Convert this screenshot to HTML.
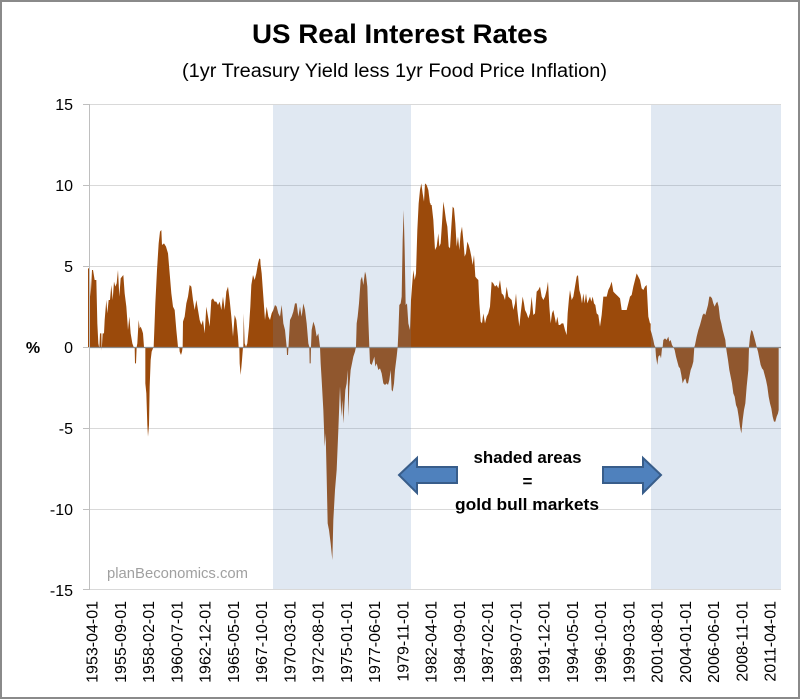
<!DOCTYPE html>
<html>
<head>
<meta charset="utf-8">
<style>
html,body{margin:0;padding:0;background:#fff;}
svg{display:block;}
text{font-family:"Liberation Sans",sans-serif;}
</style>
</head>
<body>
<svg width="800" height="700" viewBox="0 0 800 700" xmlns="http://www.w3.org/2000/svg">
<rect x="0" y="0" width="800" height="700" fill="#fff"/>
<rect x="1" y="1" width="798" height="697" fill="none" stroke="#8a8a8a" stroke-width="2"/>

<!-- titles -->
<text x="400" y="43" text-anchor="middle" font-size="27" font-weight="bold" fill="#000" textLength="296" lengthAdjust="spacingAndGlyphs">US Real Interest Rates</text>
<text x="394.5" y="77" text-anchor="middle" font-size="19" fill="#000" textLength="425" lengthAdjust="spacingAndGlyphs">(1yr Treasury Yield less 1yr Food  Price Inflation)</text>

<!-- gridlines -->
<g stroke="#d9d9d9" stroke-width="1">
<line x1="89" y1="104.5" x2="781" y2="104.5"/>
<line x1="89" y1="185.5" x2="781" y2="185.5"/>
<line x1="89" y1="266.5" x2="781" y2="266.5"/>
<line x1="89" y1="428.5" x2="781" y2="428.5"/>
<line x1="89" y1="509.5" x2="781" y2="509.5"/>
<line x1="89" y1="589.5" x2="781" y2="589.5"/>
</g>

<!-- series -->
<g fill="#9b4a0b">
<g transform="translate(88,220) scale(0.33333)">
<polygon points="0,381 0,145 5,145 8,230 12,150 15,150 20,180 25,180 28,310 31,370 34,385 36,340 40,340 41,392 44,340 48,340 50,300 55,240 58,280 62,240 66,240 70,195 74,240 78,185 82,200 86,190 90,150 94,230 98,175 102,170 106,165 110,220 115,260 120,330 124,290 128,340 133,370 137,381 140,381 141,430 144,430 146,381 148,370 152,300 155,325 158,320 162,330 165,340 168,381 172,381 172,490 175,520 178,615 180,650 183,615 185,500 188,420 191,395 195,385 197,381 198,355 202,250 207,150 212,70 216,35 220,30 222,75 228,70 234,80 240,100 245,160 250,220 255,260 260,270 265,330 270,381 274,381 275,395 279,405 282,395 284,381 285,305 290,290 295,250 300,230 305,195 310,200 315,240 320,270 325,240 330,270 335,300 340,315 345,300 350,340 355,260 360,290 365,320 370,240 375,235 380,245 385,245 390,255 395,245 400,270 405,230 410,270 415,215 420,200 425,240 430,290 435,350 440,285 445,300 450,350 452,381 454,381 455,430 458,465 462,420 465,381 466,381 467,280 470,370 474,381 478,370 483,320 487,260 490,195 495,165 500,180 505,160 510,130 514,115 517,118 518,381"/>
</g>
<g transform="translate(260,170) scale(0.33333)">
<polygon points="0,531 0,270 5,310 10,380 15,450 20,410 25,440 30,450 35,430 40,420 45,405 50,410 55,430 60,440 65,405 70,460 75,480 80,531 81,555 84,555 86,520 90,450 95,440 100,425 105,400 110,400 115,440 120,410 125,440 130,400 135,420 140,460 145,520 148,531 149,580 152,580 153,530 155,480 160,455 165,470 170,500 175,490 180,531 182,580 185,630 190,720 194,830 197,790 200,920 203,1060 207,1080 212,1120 217,1170 220,1050 225,960 230,900 235,780 238,700 240,650 244,740 247,690 250,760 253,710 256,660 260,640 263,600 265,740 268,650 272,600 276,580 280,560 285,545 288,531 290,460 293,440 297,400 302,330 306,320 310,345 315,305 318,315 322,350 325,450 328,531 330,580 335,585 340,570 343,560 346,590 350,580 355,600 360,595 365,610 370,640 375,645 380,640 384,645 388,630 392,600 395,660 398,665 402,640 405,600 410,560 413,531 415,490 418,405 422,400 425,380 428,210 431,120 434,240 437,405 441,400 445,460 450,480 453,390 456,350 460,300 464,330 468,310 472,180 476,100 480,60 484,40 488,70 492,95 495,40 500,45 505,60 510,100 512,100 512,531"/>
</g>
<g transform="translate(430,170) scale(0.33333)">
<polygon points="0,531 0,105 5,105 10,150 15,240 20,230 25,190 28,230 32,220 36,160 40,95 44,120 48,150 52,170 56,230 60,235 64,170 68,110 72,115 76,160 80,230 84,200 88,240 92,190 96,170 100,210 104,260 108,250 112,215 116,225 120,240 124,260 128,285 132,255 136,320 140,325 145,330 148,400 152,455 156,460 160,430 165,460 170,440 175,430 180,410 185,335 190,340 195,350 200,345 205,355 210,330 215,370 220,375 225,390 230,350 235,380 240,385 245,390 250,420 255,400 258,370 262,420 268,470 272,430 278,380 282,400 285,420 290,430 295,445 300,430 305,380 310,435 315,430 320,365 325,360 330,350 335,380 340,390 345,380 350,360 354,335 358,410 362,460 366,430 370,420 374,440 378,460 382,440 386,465 390,465 395,460 400,460 405,480 410,495 413,430 417,385 420,360 425,390 430,380 435,350 440,320 444,315 448,360 452,375 456,400 460,370 464,400 468,370 472,400 476,390 480,380 484,395 488,380 492,400 496,405 500,430 505,435 510,470 515,435 520,380 525,380 530,380 535,360 540,350 545,335 550,365 555,370 560,375 565,380 570,385 575,420 580,420 585,420 590,420 595,400 600,380 605,375 610,350 615,330 620,310 625,320 630,330 635,355 640,360 645,350 650,345 655,440 660,460 662,460 662,531"/>
</g>
<g transform="translate(640,280) scale(0.33333)">
<polygon points="30,201 30,145 35,160 40,180 43,195 46,201 48,230 52,255 55,230 60,225 63,235 66,205 68,201 70,180 75,175 80,180 85,170 88,185 92,180 96,195 100,201 104,210 108,230 112,245 116,260 120,265 124,285 128,310 132,300 136,295 140,310 144,310 148,290 152,270 156,260 160,245 163,201 165,195 170,170 175,150 180,135 184,120 188,105 192,100 196,105 200,90 204,75 208,50 212,50 216,55 220,70 224,80 228,70 232,65 236,80 240,115 244,130 248,150 252,165 256,180 258,201 260,215 264,240 268,270 272,290 276,310 280,340 284,350 288,375 292,385 296,410 300,440 304,460 308,420 312,390 316,370 320,320 325,270 327,201 330,170 334,150 338,155 342,170 346,185 350,201 354,215 358,235 362,255 366,265 370,270 374,285 378,300 382,320 386,350 390,370 394,385 398,410 402,425 406,425 410,410 414,400 416,390 416,201"/>
</g>
</g>

<!-- shaded overlays -->
<rect x="273" y="105" width="138" height="484" fill="rgb(100,140,190)" fill-opacity="0.2"/>
<rect x="651" y="105" width="130" height="484" fill="rgb(100,140,190)" fill-opacity="0.2"/>

<!-- axes -->
<line x1="89" y1="347.5" x2="781" y2="347.5" stroke="#8a8a8a" stroke-width="1.2"/>
<line x1="89.5" y1="104" x2="89.5" y2="590" stroke="#bfbfbf" stroke-width="1"/>
<g stroke="#bfbfbf" stroke-width="1">
<line x1="83" y1="104.5" x2="89" y2="104.5"/>
<line x1="83" y1="185.5" x2="89" y2="185.5"/>
<line x1="83" y1="266.5" x2="89" y2="266.5"/>
<line x1="83" y1="347.5" x2="89" y2="347.5"/>
<line x1="83" y1="428.5" x2="89" y2="428.5"/>
<line x1="83" y1="509.5" x2="89" y2="509.5"/>
<line x1="83" y1="589.5" x2="89" y2="589.5"/>
</g>

<!-- y labels -->
<g font-size="16" fill="#000" text-anchor="end">
<text x="73" y="110">15</text>
<text x="73" y="191">10</text>
<text x="73" y="272">5</text>
<text x="73" y="353">0</text>
<text x="73" y="434">-5</text>
<text x="73" y="515">-10</text>
<text x="73" y="596">-15</text>
</g>
<text x="33" y="353" font-size="16" font-weight="bold" text-anchor="middle" fill="#000">%</text>

<!-- watermark -->
<text x="107" y="578" font-size="15" fill="#a0a0a0" textLength="141" lengthAdjust="spacingAndGlyphs">planBeconomics.com</text>

<!-- annotation -->
<g font-size="17" font-weight="bold" fill="#000" text-anchor="middle">
<text x="527.5" y="463" textLength="108" lengthAdjust="spacingAndGlyphs">shaded areas</text>
<text x="527.5" y="487">=</text>
<text x="527" y="510" textLength="144" lengthAdjust="spacingAndGlyphs">gold bull markets</text>
</g>
<polygon points="399,475 417,458 417,467 457,467 457,483 417,483 417,493" fill="#4f81bd" stroke="#385d8a" stroke-width="2" stroke-linejoin="miter"/>
<polygon points="661,475 643,458 643,467 603,467 603,483 643,483 643,493" fill="#4f81bd" stroke="#385d8a" stroke-width="2" stroke-linejoin="miter"/>

<!-- x labels -->
<g font-size="16" fill="#000" text-anchor="end">
<text transform="translate(92,601) rotate(-90)" dy="0.35em">1953-04-01</text>
<text transform="translate(120.25,601) rotate(-90)" dy="0.35em">1955-09-01</text>
<text transform="translate(148.5,601) rotate(-90)" dy="0.35em">1958-02-01</text>
<text transform="translate(176.75,601) rotate(-90)" dy="0.35em">1960-07-01</text>
<text transform="translate(205,601) rotate(-90)" dy="0.35em">1962-12-01</text>
<text transform="translate(233.25,601) rotate(-90)" dy="0.35em">1965-05-01</text>
<text transform="translate(261.5,601) rotate(-90)" dy="0.35em">1967-10-01</text>
<text transform="translate(289.75,601) rotate(-90)" dy="0.35em">1970-03-01</text>
<text transform="translate(318,601) rotate(-90)" dy="0.35em">1972-08-01</text>
<text transform="translate(346.25,601) rotate(-90)" dy="0.35em">1975-01-01</text>
<text transform="translate(374.5,601) rotate(-90)" dy="0.35em">1977-06-01</text>
<text transform="translate(402.75,601) rotate(-90)" dy="0.35em">1979-11-01</text>
<text transform="translate(431,601) rotate(-90)" dy="0.35em">1982-04-01</text>
<text transform="translate(459.25,601) rotate(-90)" dy="0.35em">1984-09-01</text>
<text transform="translate(487.5,601) rotate(-90)" dy="0.35em">1987-02-01</text>
<text transform="translate(515.75,601) rotate(-90)" dy="0.35em">1989-07-01</text>
<text transform="translate(544,601) rotate(-90)" dy="0.35em">1991-12-01</text>
<text transform="translate(572.25,601) rotate(-90)" dy="0.35em">1994-05-01</text>
<text transform="translate(600.5,601) rotate(-90)" dy="0.35em">1996-10-01</text>
<text transform="translate(628.75,601) rotate(-90)" dy="0.35em">1999-03-01</text>
<text transform="translate(657,601) rotate(-90)" dy="0.35em">2001-08-01</text>
<text transform="translate(685.25,601) rotate(-90)" dy="0.35em">2004-01-01</text>
<text transform="translate(713.5,601) rotate(-90)" dy="0.35em">2006-06-01</text>
<text transform="translate(741.75,601) rotate(-90)" dy="0.35em">2008-11-01</text>
<text transform="translate(770,601) rotate(-90)" dy="0.35em">2011-04-01</text>
</g>
</svg>
</body>
</html>
